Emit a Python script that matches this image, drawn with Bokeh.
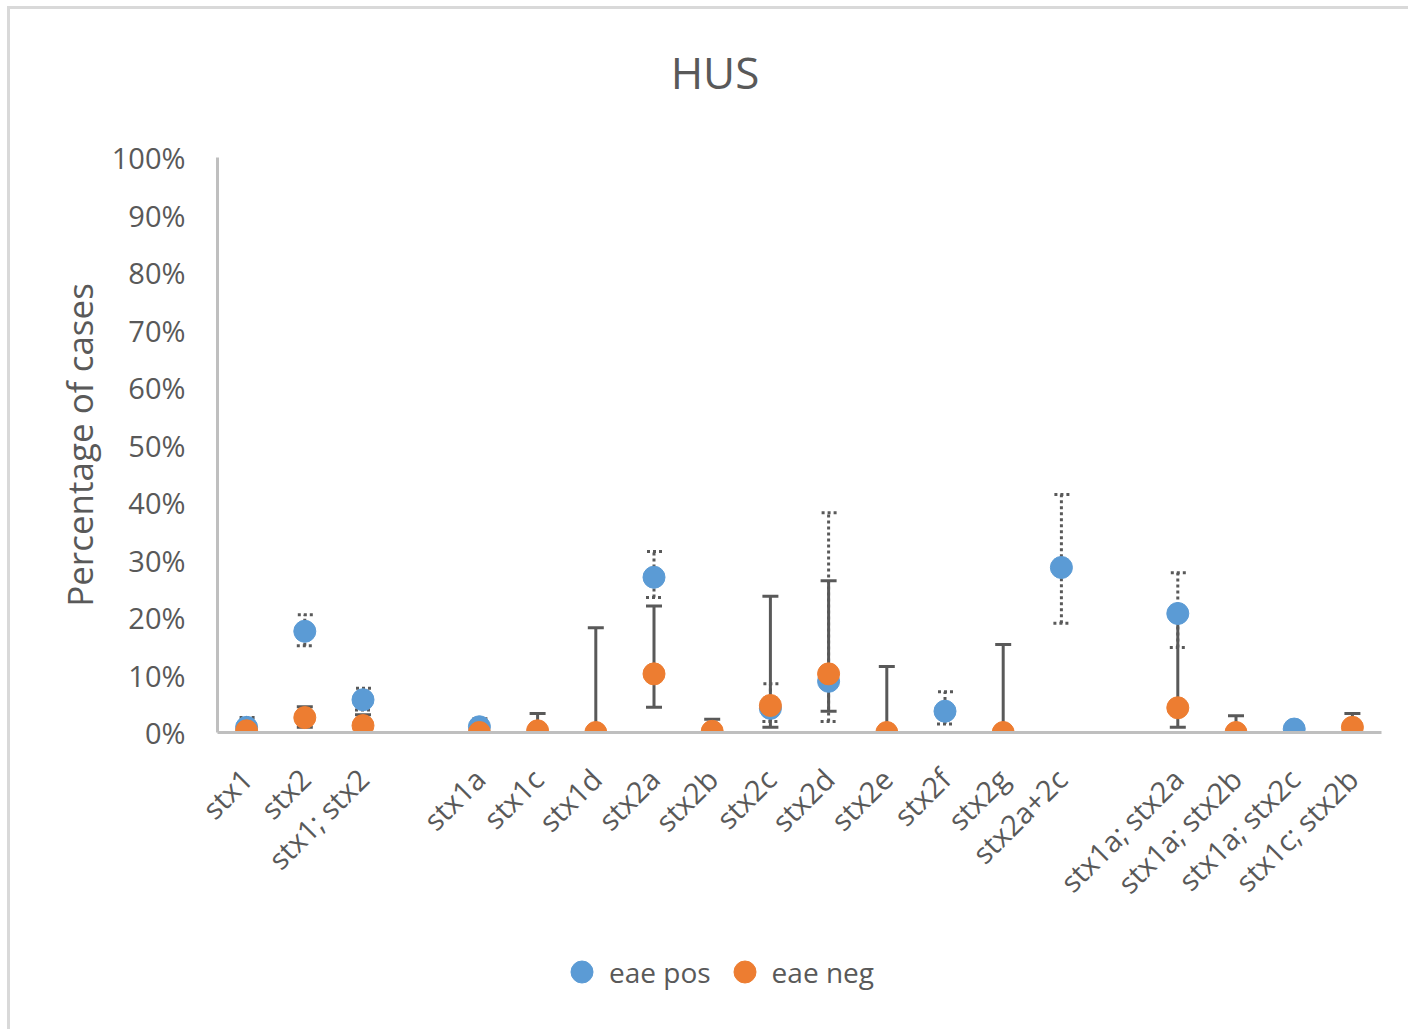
import math
from bokeh.plotting import figure
from bokeh.layouts import column
from bokeh.models import (FactorRange, Range1d, ColumnDataSource, Whisker, TeeHead,
                          Legend, LegendItem, PrintfTickFormatter, FixedTicker, Div)
from bokeh.embed import file_html
from bokeh.resources import INLINE

chart_title = "HUS"
categories = ["stx1", "stx2", "stx1; stx2", " ",
              "stx1a", "stx1c", "stx1d", "stx2a", "stx2b", "stx2c", "stx2d",
              "stx2e", "stx2f", "stx2g", "stx2a+2c", "  ",
              "stx1a; stx2a", "stx1a; stx2b", "stx1a; stx2c", "stx1c; stx2b"]

series_names = ["eae pos", "eae neg"]

# eae pos (percent)
eae_pos = [0.9, 17.6, 5.7, None,
           1.0, None, None, 27.0, None, 4.2, 8.9,
           None, 3.7, None, 28.7, None,
           20.7, None, 0.6, None]
eae_pos_lower = [0.2, 15.1, 3.9, None,
                 0.2, None, None, 23.5, None, 1.9, 1.9,
                 None, 1.5, None, 19.0, None,
                 14.8, None, 0.1, None]
eae_pos_upper = [2.6, 20.5, 7.7, None,
                 2.4, None, None, 31.5, None, 8.5, 38.2,
                 None, 7.1, None, 41.4, None,
                 27.8, None, 1.2, None]

# eae neg (percent)
eae_neg = [0.3, 2.6, 1.2, None,
           0.0, 0.3, 0.0, 10.2, 0.2, 4.7, 10.2,
           0.0, None, 0.0, None, None,
           4.3, 0.0, None, 0.9]
eae_neg_lower = [0.0, 0.9, 0.2, None,
                 0.0, 0.0, 0.0, 4.4, 0.0, 0.9, 3.7,
                 0.0, None, 0.0, None, None,
                 0.9, 0.0, None, 0.1]
eae_neg_upper = [1.0, 4.5, 3.1, None,
                 0.5, 3.3, 18.2, 22.0, 2.3, 23.7, 26.4,
                 11.5, None, 15.3, None, None,
                 20.5, 2.9, None, 3.3]

y_ticks = [0, 10, 20, 30, 40, 50, 60, 70, 80, 90, 100]

BLUE = "#5B9BD5"
ORANGE = "#ED7D31"
ERR = "#595959"
TXT = "#595959"
AX = "#BFBFBF"
FONT = "Open Sans"


def make_src(vals, lo, hi):
    xs, ys, ls, us = [], [], [], []
    for c, v, l, u in zip(categories, vals, lo, hi):
        if v is None:
            continue
        xs.append(c); ys.append(v); ls.append(l); us.append(u)
    return ColumnDataSource(dict(x=xs, y=ys, lower=ls, upper=us))


pos_src = make_src(eae_pos, eae_pos_lower, eae_pos_upper)
neg_src = make_src(eae_neg, eae_neg_lower, eae_neg_upper)

# layout: column origin at page (10, 9) (7/6 px margin + 3 px border)
W = 1398
TITLE_H = 100
BOTTOM = 200
MAIN_H = 575 + 48 + BOTTOM
LEG_H = 1020 - TITLE_H - MAIN_H

title_div = Div(
    text=(f'<div style="box-sizing:border-box;width:{W}px;text-align:center;'
          f'font-family:\'Open Sans\';font-size:44px;line-height:44px;color:{TXT};'
          f'padding-top:41px;padding-left:12px">{chart_title}</div>'),
    width=W, height=TITLE_H, margin=0)

x_range = FactorRange(factors=categories)

p = figure(x_range=x_range, y_range=Range1d(0, 100),
           width=W, height=MAIN_H, output_backend="svg", toolbar_location=None,
           min_border_left=207, min_border_right=W - 1371, min_border_top=48,
           min_border_bottom=BOTTOM)
p.outline_line_color = None
p.xgrid.grid_line_color = None
p.ygrid.grid_line_color = None

for ax in (p.xaxis[0], p.yaxis[0]):
    ax.axis_line_color = AX
    ax.axis_line_width = 3
    ax.major_tick_line_color = None
    ax.minor_tick_line_color = None
    ax.major_label_text_font = FONT
    ax.major_label_text_color = TXT

p.yaxis.major_label_text_font_size = "29px"
p.yaxis.ticker = FixedTicker(ticks=y_ticks)
p.yaxis.formatter = PrintfTickFormatter(format="%d%%")
p.yaxis.major_label_standoff = 26
p.yaxis.axis_label = "Percentage of cases"
p.yaxis.axis_label_text_font = FONT
p.yaxis.axis_label_text_font_size = "35px"
p.yaxis.axis_label_text_font_style = "normal"
p.yaxis.axis_label_text_color = TXT
p.yaxis.axis_label_standoff = 6

p.xaxis.major_label_text_font_size = "29px"
p.xaxis.major_label_orientation = math.pi / 4
p.xaxis.major_label_standoff = 35

# error bars
for src, dash in ((pos_src, "3 3"), (neg_src, "solid")):
    heads = [TeeHead(size=16, line_color=ERR, line_width=3, line_dash=dash) for _ in range(2)]
    w = Whisker(source=src, base="x", lower="lower", upper="upper",
                line_color=ERR, line_width=3, line_dash=dash,
                lower_head=heads[0], upper_head=heads[1], level="underlay")
    p.add_layout(w)

r_pos = p.scatter(x="x", y="y", source=pos_src, size=22, fill_color=BLUE, line_color=BLUE)
r_neg = p.scatter(x="x", y="y", source=neg_src, size=22, fill_color=ORANGE, line_color=ORANGE)

# legend strip below the chart: same series, same styles (their points fall outside this strip)
p2 = figure(width=W, height=LEG_H, output_backend="svg", toolbar_location=None,
            x_range=x_range, y_range=Range1d(1000, 1001),
            min_border_left=0, min_border_right=0, min_border_top=0, min_border_bottom=0)
p2.axis.visible = False
p2.grid.visible = False
p2.outline_line_color = None
l_pos = p2.scatter(x="x", y="y", source=pos_src, size=22, fill_color=BLUE, line_color=BLUE)
l_neg = p2.scatter(x="x", y="y", source=neg_src, size=22, fill_color=ORANGE, line_color=ORANGE)

legend = Legend(items=[LegendItem(label=series_names[0], renderers=[l_pos]),
                       LegendItem(label=series_names[1], renderers=[l_neg])],
                orientation="horizontal", location=(337, 30),
                border_line_color=None, background_fill_alpha=0,
                label_text_font=FONT, label_text_font_size="28px", label_text_color=TXT,
                glyph_width=55, glyph_height=55, label_standoff=0, spacing=6,
                padding=0, margin=0)
p2.add_layout(legend)

layout = column(title_div, p, p2, spacing=0,
                styles={"border-top": "3px solid #D9D9D9", "border-left": "3px solid #D9D9D9",
                        "margin-left": "7px", "margin-top": "6px"})

open("out.html", "w").write(file_html(layout, INLINE))
